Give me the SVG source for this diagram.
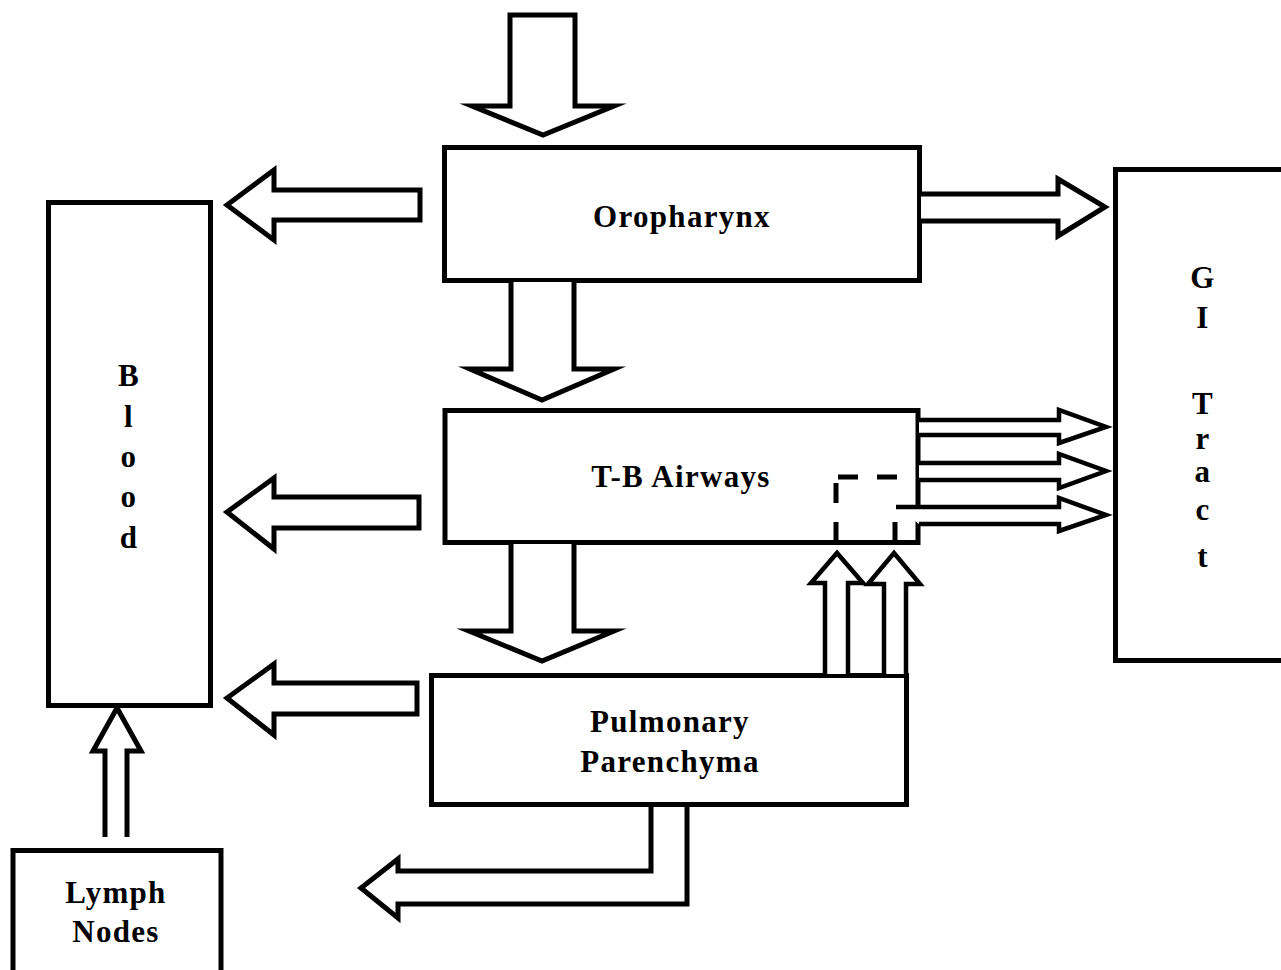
<svg xmlns="http://www.w3.org/2000/svg" width="1281" height="970" viewBox="0 0 1281 970">
<style>
.box{fill:#fff;stroke:#000;stroke-width:5}
.arr{fill:#fff;stroke:#000;stroke-width:5;stroke-linejoin:miter;stroke-miterlimit:10}
.thin{fill:#fff;stroke:#000;stroke-width:4.5;stroke-linejoin:miter;stroke-miterlimit:10}
.dash{fill:none;stroke:#000;stroke-width:5}
text{font-family:"Liberation Serif","Times New Roman",serif;font-weight:bold;font-size:31px;letter-spacing:1.3px;fill:#000;text-anchor:middle}
</style>
<rect width="1281" height="970" fill="#fff"/>
<g id="blood">
<rect class="box" x="48.5" y="202.5" width="162" height="503"/>
<text x="129" y="386">B</text>
<text x="129" y="427">l</text>
<text x="129" y="467">o</text>
<text x="129" y="507">o</text>
<text x="129" y="548">d</text>
</g>
<g id="oropharynx">
<rect class="box" x="444.5" y="147.5" width="475" height="133"/>
<text x="682" y="227">Oropharynx</text>
</g>
<g id="tb-airways">
<rect class="box" x="445" y="410.5" width="473" height="132"/>
<text x="681" y="487">T-B Airways</text>
</g>
<g id="pulmonary">
<rect class="box" x="431.5" y="675.5" width="475" height="129"/>
<text x="670" y="732">Pulmonary</text>
<text x="670" y="772">Parenchyma</text>
</g>
<g id="gi-tract">
<rect class="box" x="1115.5" y="169.5" width="200" height="491"/>
<text x="1203" y="288">G</text>
<text x="1203" y="328">I</text>
<text x="1203" y="414">T</text>
<text x="1203" y="449">r</text>
<text x="1203" y="482">a</text>
<text x="1203" y="520">c</text>
<text x="1203" y="567">t</text>
</g>
<g id="lymph-nodes">
<rect class="box" x="13" y="850.5" width="208" height="125"/>
<text x="116" y="903">Lymph</text>
<text x="116" y="942">Nodes</text>
</g>
<g id="connectors">
<!-- inhalation into oropharynx -->
<polygon class="arr" points="510,15 575,15 575,106 614,106 543,135 472,106 510,106"/>
<!-- oropharynx to T-B -->
<polyline class="arr" points="511,282 511,369 470,369 542,400 614,369 574,369 574,282"/>
<!-- T-B to pulmonary -->
<polyline class="arr" points="511,544 511,631 469,631 542,661 614,631 574,631 574,544"/>
<!-- to blood -->
<polygon class="arr" points="420,190 420,220 274,220 274,240 227,205 274,170 274,190"/>
<polygon class="arr" points="419,497 419,528 274,528 274,549 227,512 274,478 274,497"/>
<polygon class="arr" points="417,683 417,714 274,714 274,735 227,698 274,664 274,683"/>
<!-- oropharynx to GI -->
<polyline class="arr" points="921,194 1058,194 1058,179 1105,207 1058,236 1058,221 921,221"/>
<!-- T-B to GI -->
<polyline class="thin" points="919,420 1059,420 1059,410 1106,427 1059,443 1059,435 919,435"/>
<polyline class="thin" points="919,463 1059,463 1059,454 1106,471 1059,488 1059,480 919,480"/>
<polyline class="thin" points="896,507 1059,507 1059,498 1106,515 1059,531 1059,524 919,524"/>
<!-- dashed path inside T-B -->
<path class="dash" d="M838,477H858M877,477H897M836,483V503M836,522V541M895,522V541"/>
<!-- pulmonary up to T-B -->
<polyline class="thin" points="825,674 825,583 811,583 837,553 863,583 848,583 848,674"/>
<polyline class="thin" points="884,674 884,584 868,584 894,553 920,584 906,584 906,674"/>
<!-- pulmonary out (clearance) -->
<polyline class="arr" points="651,807 651,871 398,871 398,859 361,888 398,918 398,904 687,904 687,807"/>
<!-- lymph nodes to blood -->
<polyline class="arr" points="105,837 105,751 93,751 117,708 141,751 127,751 127,837"/>
</g>
</svg>
